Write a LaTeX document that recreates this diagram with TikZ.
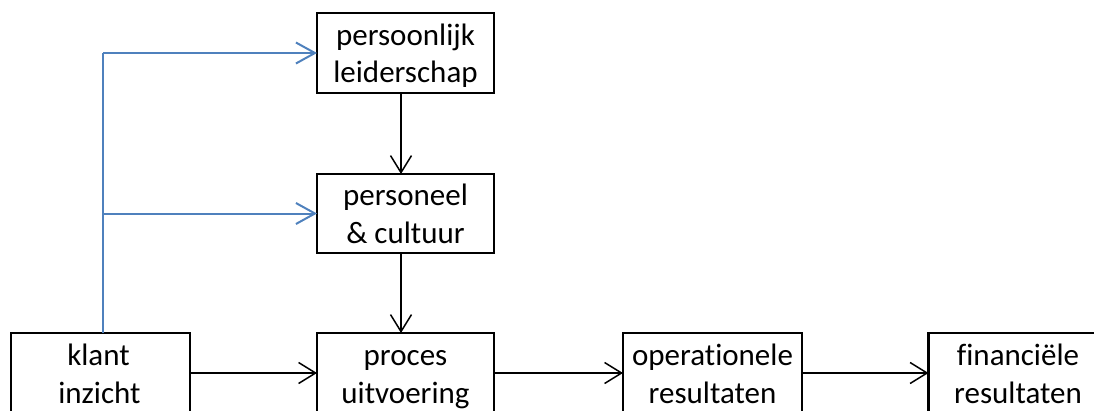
\documentclass[tikz,border=0pt]{standalone}
\usepackage{fontspec}
\setmainfont{Carlito}[Ligatures=CommonOff]
\usetikzlibrary{arrows.meta,calc}
\definecolor{linkblue}{RGB}{79,129,189}
\begin{document}
\begin{tikzpicture}[x=1pt,y=-1pt,
  box/.style={draw=black,line width=2.5pt,minimum width=177pt,minimum height=80pt,inner sep=0pt,outer sep=0pt},
  lbl/.style={font=\fontsize{31}{36}\selectfont,anchor=base,inner sep=0pt},
  conn/.style={draw=black,line width=1.5pt,-{Straight Barb[length=17pt,width=21pt,line width=1.5pt]}},
  blueline/.style={draw=linkblue,line width=2pt},
  blueconn/.style={blueline,-{Straight Barb[length=19pt,width=21pt,line width=2pt]}}]
\useasboundingbox (0,0) rectangle (1094,410);
\clip (0,0) rectangle (1094,410);
% boxes
\node[box] (pl) at (405.5,53) {};
\node[box,minimum height=79pt] (pc) at (405.5,213.5) {};
\node[box,minimum width=179pt] (kl) at (100.5,373) {};
\node[box] (pu) at (405.5,373) {};
\node[box,minimum width=179pt] (op) at (712.5,373) {};
\node[box,minimum width=179pt] (fi) at (1018,373) {};
% labels
\node[lbl] (pl1) at ($(pl.north)+(0,32)$) {persoonlijk};
\node[lbl] (pl2) at ($(pl.north)+(0,69.5)$) {leiderschap};
\node[lbl] (pc1) at ($(pc.north)+(0,31)$) {personeel};
\node[lbl] (pc2) at ($(pc.north)+(0,69)$) {\& cultuur};
\node[lbl] (kl1) at ($(kl.north)+(-2,32)$) {klant};
\node[lbl] (kl2) at ($(kl.north)+(-1,70)$) {inzicht};
\node[lbl] (pu1) at ($(pu.north)+(0,32)$) {proces};
\node[lbl] (pu2) at ($(pu.north)+(0,70)$) {uitvoering};
\node[lbl] (op1) at ($(op.north)+(0,32)$) {operationele};
\node[lbl] (op2) at ($(op.north)+(0,70)$) {resultaten};
\node[lbl] (fi1) at ($(fi.north)+(0,32)$) {financiële};
\node[lbl] (fi2) at ($(fi.north)+(0,70)$) {resultaten};
% connectors
\draw[conn] ($(pl.south)+(-4.5,0)$) -- ($(pc.north)+(-4.5,0)$);
\draw[conn] ($(pc.south)+(-4.5,0)$) -- ($(pu.north)+(-4.5,0)$);
\draw[conn] (kl.east) -- (pu.west);
\draw[conn] (pu.east) -- (op.west);
\draw[conn] (op.east) -- (fi.west);
% blue feedback
\coordinate (bx) at (103,0);
\draw[blueline] (bx |- kl.north) -- (bx |- pl.west);
\draw[blueconn] (bx |- pl.west) -- (pl.west);
\draw[blueconn] (bx |- pc.west) -- (pc.west);
\end{tikzpicture}
\end{document}
